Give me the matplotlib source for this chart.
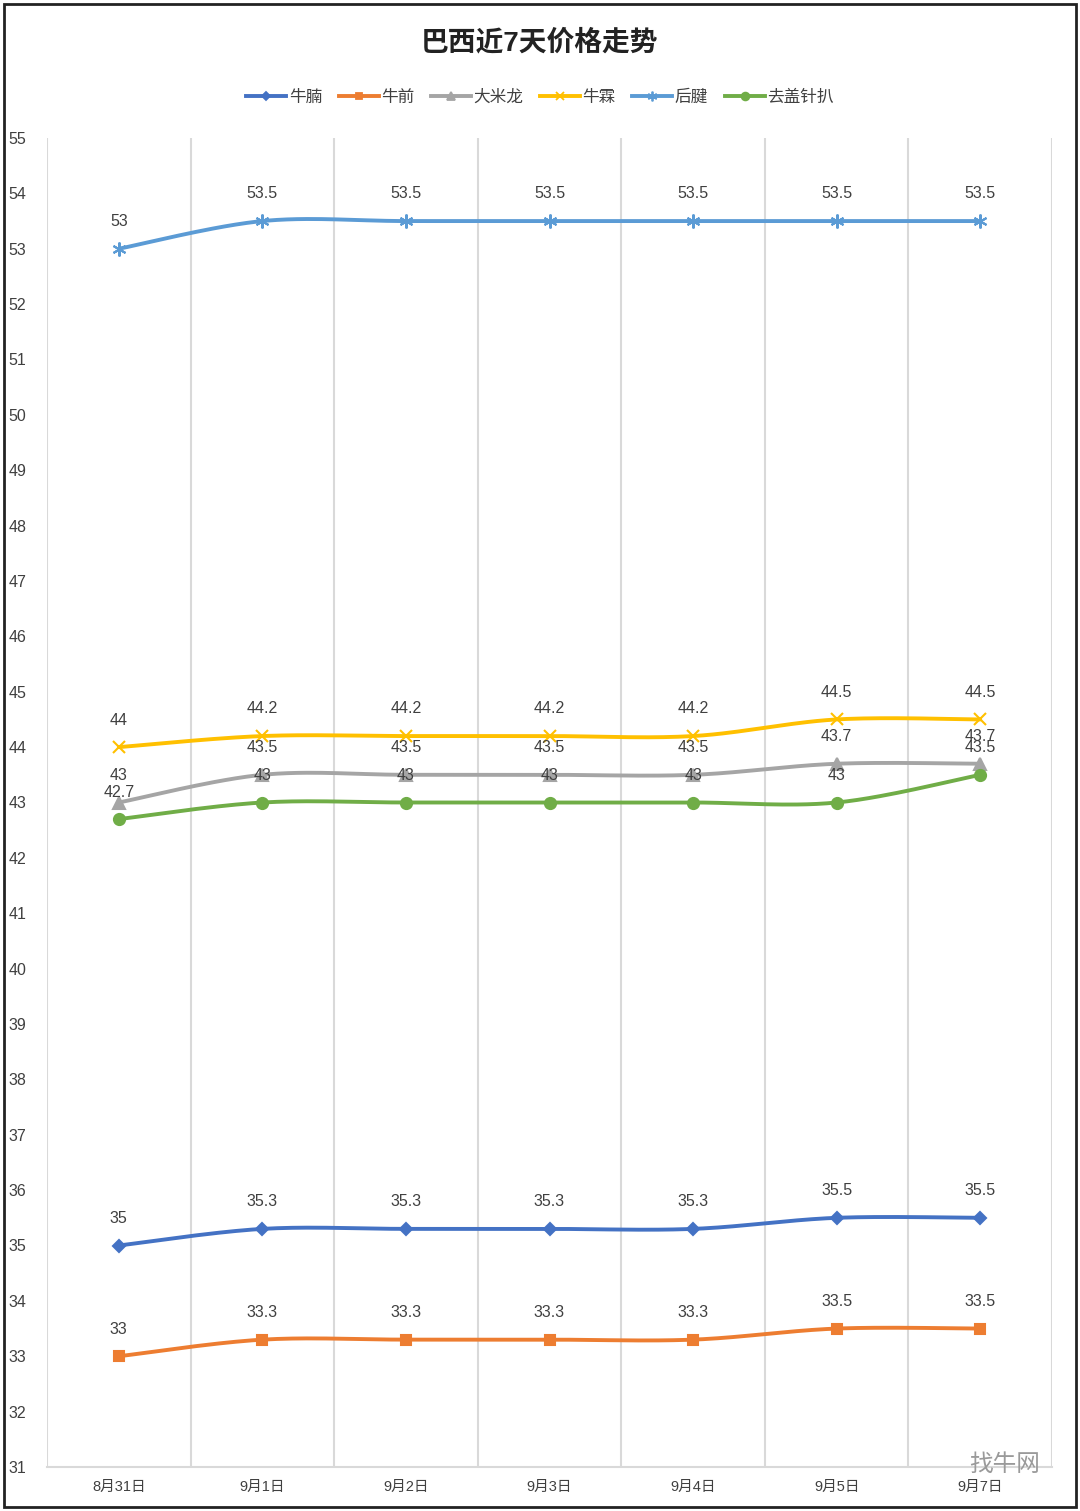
import numpy as np
import matplotlib.pyplot as plt
from matplotlib.patches import Rectangle

plt.rcParams['font.family'] = ['Liberation Sans', 'Noto Sans CJK SC', 'DejaVu Sans']

dates = ["8月31日", "9月1日", "9月2日", "9月3日", "9月4日", "9月5日", "9月7日"]
niunan = [35, 35.3, 35.3, 35.3, 35.3, 35.5, 35.5]
niuqian = [33, 33.3, 33.3, 33.3, 33.3, 33.5, 33.5]
damilong = [43, 43.5, 43.5, 43.5, 43.5, 43.7, 43.7]
niulin = [44, 44.2, 44.2, 44.2, 44.2, 44.5, 44.5]
houjian = [53, 53.5, 53.5, 53.5, 53.5, 53.5, 53.5]
qugai = [42.7, 43, 43, 43, 43, 43, 43.5]

series = [
    ("牛腩", niunan, "#4472C4", "D", 6),
    ("牛前", niuqian, "#ED7D31", "s", 7),
    ("大米龙", damilong, "#A5A5A5", "^", 8),
    ("牛霖", niulin, "#FFC000", "x", 9),
    ("后腱", houjian, "#5B9BD5", (6, 2, 0), 10),
    ("去盖针扒", qugai, "#70AD47", "o", 8),
]


def smooth(x, y, n=30):
    # excel-like smoothed line (catmull-rom as bezier)
    x = np.asarray(x, float)
    y = np.asarray(y, float)
    px = np.concatenate([[x[0]], x, [x[-1]]])
    py = np.concatenate([[y[0]], y, [y[-1]]])
    xs, ys = [], []
    t = np.linspace(0, 1, n)
    for i in range(1, len(px) - 2):
        p0 = np.array([px[i], py[i]])
        p3 = np.array([px[i + 1], py[i + 1]])
        c1 = p0 + (np.array([px[i + 1], py[i + 1]]) - np.array([px[i - 1], py[i - 1]])) / 6
        c2 = p3 - (np.array([px[i + 2], py[i + 2]]) - np.array([px[i], py[i]])) / 6
        pts = ((1 - t) ** 3)[:, None] * p0 + (3 * (1 - t) ** 2 * t)[:, None] * c1 \
            + (3 * (1 - t) * t ** 2)[:, None] * c2 + (t ** 3)[:, None] * p3
        xs.extend(pts[:, 0])
        ys.extend(pts[:, 1])
    return xs, ys


fig = plt.figure(figsize=(10.8, 15.11), dpi=100)
ax = fig.add_axes([47 / 1080, 44 / 1511, 1005 / 1080, 1329 / 1511])

x = np.arange(len(dates))
handles = []
for name, vals, color, mk, ms in series:
    sx, sy = smooth(x, vals)
    ax.plot(sx, sy, color=color, lw=2.8, zorder=3, solid_capstyle='round')
    ax.plot(x, vals, ls='none', marker=mk, color=color, ms=ms, mew=1.5, zorder=4)
    h, = ax.plot([], [], color=color, lw=2.8, marker=mk, ms=ms * 0.7, mew=1.3)
    handles.append(h)
    for xi, v in zip(x, vals):
        ax.annotate(f"{v:g}", (xi, v), xytext=(0, 19.5), textcoords='offset points',
                    ha='center', va='center', fontsize=11.5, color='#404040', zorder=5)

ax.set_xlim(-0.5, 6.5)
ax.set_ylim(31, 55)
ax.set_yticks(range(31, 56))
ax.set_xticks(x)
ax.set_xticklabels(dates, fontsize=10.5, color='#404040')
ax.tick_params(axis='y', labelsize=11.5, labelcolor='#404040', length=0, pad=15)
ax.tick_params(axis='x', length=0, pad=9)
for xv in np.arange(-0.5, 7, 1):
    ax.axvline(xv, color='#D9D9D9', lw=1.5, zorder=1)
for s in ['top', 'right', 'left']:
    ax.spines[s].set_visible(False)
ax.spines['bottom'].set_color('#D9D9D9')
ax.spines['bottom'].set_linewidth(1.5)

fig.text(0.5, 1 - 43 / 1511, "巴西近7天价格走势", ha='center', va='center',
         fontsize=20, fontweight='bold', color='#222222')
fig.legend(handles, [s[0] for s in series], loc='center', ncol=6,
           bbox_to_anchor=(0.5, 1 - 97 / 1511), frameon=False, fontsize=12,
           handlelength=2.4, columnspacing=1.0, handletextpad=0.15,
           labelcolor='#404040')

fig.text(1005 / 1080, 1 - 1465 / 1511, "找牛网", ha='center', va='center',
         fontsize=17, color='#9A9A9A')

fig.patches.append(Rectangle((4 / 1080, 4 / 1511), 1072 / 1080, 1503 / 1511,
                             transform=fig.transFigure, fill=False,
                             edgecolor='#222222', lw=2))

fig.savefig("out.png", dpi=100, facecolor='white')
